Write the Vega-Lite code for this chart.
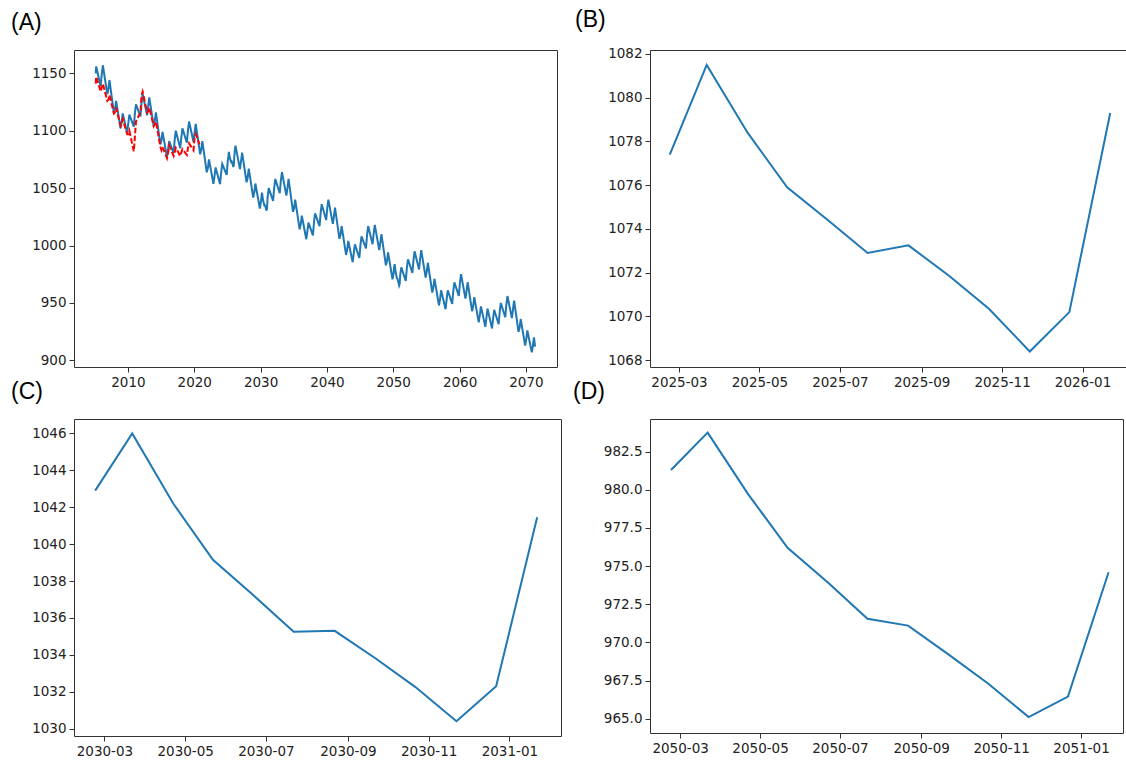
{
  "$schema": "https://vega.github.io/schema/vega-lite/v6.json",
  "autosize": {"type": "pad"},
  "padding": {"left": 10, "top": 8, "right": 0, "bottom": 0},
  "background": "white",
  "config": {
    "view": {"stroke": "#333333", "strokeWidth": 1},
    "axis": {"grid": false, "domain": false, "tickColor": "#333333", "tickSize": 5, "tickWidth": 1, "labelFont": "DejaVu Sans", "labelFontSize": 13.5, "labelColor": "#222222", "labelPadding": 3, "labelOverlap": false, "labelFlush": false, "labelBound": false},
    "title": {"anchor": "start", "frame": "group", "font": "Liberation Sans", "fontSize": 23, "fontWeight": "normal", "color": "black", "baseline": "alphabetic", "offset": 15}
  },
  "datasets": {
    "pred": [
      {"d": "2005-02-22", "v": 1150}, {"d": "2005-03-22", "v": 1156}, {"d": "2005-11-22", "v": 1138.5},
      {"d": "2006-01-22", "v": 1149.5}, {"d": "2006-03-22", "v": 1157}, {"d": "2006-11-22", "v": 1131.8},
      {"d": "2007-01-22", "v": 1136.5}, {"d": "2007-03-22", "v": 1144}, {"d": "2007-11-22", "v": 1115.4},
      {"d": "2008-01-22", "v": 1118.5}, {"d": "2008-03-22", "v": 1126}, {"d": "2008-11-22", "v": 1102.1},
      {"d": "2009-01-22", "v": 1107.5}, {"d": "2009-03-22", "v": 1115}, {"d": "2009-11-22", "v": 1097.8},
      {"d": "2010-01-22", "v": 1106.5}, {"d": "2010-03-22", "v": 1114}, {"d": "2010-11-22", "v": 1103.5},
      {"d": "2011-01-22", "v": 1115.5}, {"d": "2011-03-22", "v": 1123}, {"d": "2011-11-22", "v": 1112.5},
      {"d": "2012-01-22", "v": 1124.5}, {"d": "2012-03-22", "v": 1132}, {"d": "2012-11-22", "v": 1113.5},
      {"d": "2013-01-22", "v": 1121.5}, {"d": "2013-03-22", "v": 1129}, {"d": "2013-11-22", "v": 1103.8},
      {"d": "2014-01-22", "v": 1108.5}, {"d": "2014-03-22", "v": 1116}, {"d": "2014-11-22", "v": 1088.1},
      {"d": "2015-01-22", "v": 1091.5}, {"d": "2015-03-22", "v": 1099}, {"d": "2015-11-22", "v": 1077.1},
      {"d": "2016-01-22", "v": 1083.5}, {"d": "2016-03-22", "v": 1091}, {"d": "2016-11-22", "v": 1080.5},
      {"d": "2017-01-22", "v": 1092.5}, {"d": "2017-03-22", "v": 1100}, {"d": "2017-11-22", "v": 1084.8},
      {"d": "2018-01-22", "v": 1094.5}, {"d": "2018-03-22", "v": 1102}, {"d": "2018-11-22", "v": 1089.5},
      {"d": "2019-01-22", "v": 1100.5}, {"d": "2019-03-22", "v": 1108}, {"d": "2019-11-22", "v": 1090.2},
      {"d": "2020-01-22", "v": 1098.5}, {"d": "2020-03-22", "v": 1106}, {"d": "2020-11-22", "v": 1079.5},
      {"d": "2021-01-22", "v": 1083.5}, {"d": "2021-03-22", "v": 1091}, {"d": "2021-11-22", "v": 1063.8},
      {"d": "2022-01-22", "v": 1067.5}, {"d": "2022-03-22", "v": 1075}, {"d": "2022-11-22", "v": 1053.8},
      {"d": "2023-01-22", "v": 1060.5}, {"d": "2023-03-22", "v": 1068}, {"d": "2023-11-22", "v": 1053.5},
      {"d": "2024-01-22", "v": 1063.5}, {"d": "2024-03-22", "v": 1071}, {"d": "2024-11-22", "v": 1061.5},
      {"d": "2025-01-22", "v": 1074},
      {"d": "2025-02-22", "v": 1077.4}, {"d": "2025-03-22", "v": 1081.5}, {"d": "2025-04-22", "v": 1078.4},
      {"d": "2025-05-22", "v": 1075.9}, {"d": "2025-06-22", "v": 1074.4}, {"d": "2025-07-22", "v": 1072.9},
      {"d": "2025-08-22", "v": 1073.25}, {"d": "2025-09-22", "v": 1071.85}, {"d": "2025-10-22", "v": 1070.35},
      {"d": "2025-11-22", "v": 1068.4}, {"d": "2025-12-22", "v": 1070.2}, {"d": "2026-01-22", "v": 1079.3},
      {"d": "2026-03-22", "v": 1087}, {"d": "2026-11-22", "v": 1066.5},
      {"d": "2027-01-22", "v": 1073.5}, {"d": "2027-03-22", "v": 1081}, {"d": "2027-11-22", "v": 1055.1},
      {"d": "2028-01-22", "v": 1059.5}, {"d": "2028-03-22", "v": 1067}, {"d": "2028-11-22", "v": 1041.8},
      {"d": "2029-01-22", "v": 1046.5}, {"d": "2029-03-22", "v": 1054}, {"d": "2029-11-22", "v": 1032.1},
      {"d": "2030-01-22", "v": 1038.5},
      {"d": "2030-02-22", "v": 1042.9}, {"d": "2030-03-22", "v": 1046}, {"d": "2030-04-22", "v": 1042.2},
      {"d": "2030-05-22", "v": 1039.15}, {"d": "2030-06-22", "v": 1037.2}, {"d": "2030-07-22", "v": 1035.25},
      {"d": "2030-08-22", "v": 1035.3}, {"d": "2030-09-22", "v": 1033.8}, {"d": "2030-10-22", "v": 1032.25},
      {"d": "2030-11-22", "v": 1030.4}, {"d": "2030-12-22", "v": 1032.3}, {"d": "2031-01-22", "v": 1041.45},
      {"d": "2031-03-22", "v": 1050}, {"d": "2031-11-22", "v": 1038.9},
      {"d": "2032-01-22", "v": 1050.5}, {"d": "2032-03-22", "v": 1058}, {"d": "2032-11-22", "v": 1045.5},
      {"d": "2033-01-22", "v": 1056.5}, {"d": "2033-03-22", "v": 1064}, {"d": "2033-11-22", "v": 1043.5},
      {"d": "2034-01-22", "v": 1050.5}, {"d": "2034-03-22", "v": 1058}, {"d": "2034-11-22", "v": 1029.4},
      {"d": "2035-01-22", "v": 1032.5}, {"d": "2035-03-22", "v": 1040}, {"d": "2035-11-22", "v": 1014.1},
      {"d": "2036-01-22", "v": 1018.5}, {"d": "2036-03-22", "v": 1026}, {"d": "2036-11-22", "v": 1005.5},
      {"d": "2037-01-22", "v": 1012.5}, {"d": "2037-03-22", "v": 1020}, {"d": "2037-11-22", "v": 1008.9},
      {"d": "2038-01-22", "v": 1020.5}, {"d": "2038-03-22", "v": 1028}, {"d": "2038-11-22", "v": 1016.9},
      {"d": "2039-01-22", "v": 1028.5}, {"d": "2039-03-22", "v": 1036}, {"d": "2039-11-22", "v": 1022.2},
      {"d": "2040-01-22", "v": 1032.5}, {"d": "2040-03-22", "v": 1040}, {"d": "2040-11-22", "v": 1018.8},
      {"d": "2041-01-22", "v": 1025.5}, {"d": "2041-03-22", "v": 1033}, {"d": "2041-11-22", "v": 1005.8},
      {"d": "2042-01-22", "v": 1009.5}, {"d": "2042-03-22", "v": 1017}, {"d": "2042-11-22", "v": 991.8},
      {"d": "2043-01-22", "v": 996.5}, {"d": "2043-03-22", "v": 1004}, {"d": "2043-11-22", "v": 985.5},
      {"d": "2044-01-22", "v": 993.5}, {"d": "2044-03-22", "v": 1001}, {"d": "2044-11-22", "v": 989.2},
      {"d": "2045-01-22", "v": 1000.5}, {"d": "2045-03-22", "v": 1008}, {"d": "2045-11-22", "v": 997.5},
      {"d": "2046-01-22", "v": 1009.5}, {"d": "2046-03-22", "v": 1017}, {"d": "2046-11-22", "v": 1001.2},
      {"d": "2047-01-22", "v": 1010.5}, {"d": "2047-03-22", "v": 1018}, {"d": "2047-11-22", "v": 996.1},
      {"d": "2048-01-22", "v": 1002.5}, {"d": "2048-03-22", "v": 1010}, {"d": "2048-11-22", "v": 982.8},
      {"d": "2049-01-22", "v": 986.5}, {"d": "2049-03-22", "v": 994}, {"d": "2049-11-22", "v": 970.6},
      {"d": "2050-01-22", "v": 976},
      {"d": "2050-02-22", "v": 981.3}, {"d": "2050-03-22", "v": 983.75}, {"d": "2050-04-22", "v": 979.7},
      {"d": "2050-05-22", "v": 976.2}, {"d": "2050-06-22", "v": 973.9}, {"d": "2050-07-22", "v": 971.55},
      {"d": "2050-08-22", "v": 971.1}, {"d": "2050-09-22", "v": 969.2}, {"d": "2050-10-22", "v": 967.3},
      {"d": "2050-11-22", "v": 965.1}, {"d": "2050-12-22", "v": 966.45}, {"d": "2051-01-22", "v": 974.6},
      {"d": "2051-03-22", "v": 981}, {"d": "2051-11-22", "v": 969.2},
      {"d": "2052-01-22", "v": 980.5}, {"d": "2052-03-22", "v": 988}, {"d": "2052-11-22", "v": 976.2},
      {"d": "2053-01-22", "v": 987.5}, {"d": "2053-03-22", "v": 995}, {"d": "2053-11-22", "v": 979.2},
      {"d": "2054-01-22", "v": 988.5}, {"d": "2054-03-22", "v": 996}, {"d": "2054-11-22", "v": 972.1},
      {"d": "2055-01-22", "v": 977.5}, {"d": "2055-03-22", "v": 985}, {"d": "2055-11-22", "v": 959.1},
      {"d": "2056-01-22", "v": 963.5}, {"d": "2056-03-22", "v": 971}, {"d": "2056-11-22", "v": 947.8},
      {"d": "2057-01-22", "v": 953.5}, {"d": "2057-03-22", "v": 961}, {"d": "2057-11-22", "v": 944.5},
      {"d": "2058-01-22", "v": 953.5}, {"d": "2058-03-22", "v": 961}, {"d": "2058-11-22", "v": 949.2},
      {"d": "2059-01-22", "v": 960.5}, {"d": "2059-03-22", "v": 968}, {"d": "2059-11-22", "v": 956.2},
      {"d": "2060-01-22", "v": 967.5}, {"d": "2060-03-22", "v": 975}, {"d": "2060-11-22", "v": 953.8},
      {"d": "2061-01-22", "v": 960.5}, {"d": "2061-03-22", "v": 968}, {"d": "2061-11-22", "v": 942.8},
      {"d": "2062-01-22", "v": 947.5}, {"d": "2062-03-22", "v": 955}, {"d": "2062-11-22", "v": 933.1},
      {"d": "2063-01-22", "v": 939.5}, {"d": "2063-03-22", "v": 947}, {"d": "2063-11-22", "v": 929.2},
      {"d": "2064-01-22", "v": 937.5}, {"d": "2064-03-22", "v": 945}, {"d": "2064-11-22", "v": 927.8},
      {"d": "2065-01-22", "v": 936.5}, {"d": "2065-03-22", "v": 944}, {"d": "2065-11-22", "v": 931.5},
      {"d": "2066-01-22", "v": 942.5}, {"d": "2066-03-22", "v": 950}, {"d": "2066-11-22", "v": 937.5},
      {"d": "2067-01-22", "v": 948.5}, {"d": "2067-03-22", "v": 956}, {"d": "2067-11-22", "v": 936.8},
      {"d": "2068-01-22", "v": 944.5}, {"d": "2068-03-22", "v": 952}, {"d": "2068-11-22", "v": 924.8},
      {"d": "2069-01-22", "v": 928.5}, {"d": "2069-03-22", "v": 936}, {"d": "2069-11-22", "v": 912.8},
      {"d": "2070-01-22", "v": 918.5}, {"d": "2070-03-22", "v": 926}, {"d": "2070-11-22", "v": 907},
      {"d": "2071-01-22", "v": 912.5}, {"d": "2071-03-22", "v": 920}, {"d": "2071-05-22", "v": 912}
    ],
    "obs": [
      {"d": "2005-02-22", "v": 1141}, {"d": "2005-03-22", "v": 1147}, {"d": "2005-11-22", "v": 1134},
      {"d": "2006-01-22", "v": 1138}, {"d": "2006-03-22", "v": 1141}, {"d": "2006-11-22", "v": 1126},
      {"d": "2007-01-22", "v": 1127}, {"d": "2007-03-22", "v": 1131}, {"d": "2007-11-22", "v": 1115},
      {"d": "2008-01-22", "v": 1116}, {"d": "2008-03-22", "v": 1120}, {"d": "2008-11-22", "v": 1104},
      {"d": "2009-01-22", "v": 1106}, {"d": "2009-03-22", "v": 1110}, {"d": "2009-11-22", "v": 1097},
      {"d": "2010-01-22", "v": 1097}, {"d": "2010-03-22", "v": 1100}, {"d": "2010-11-22", "v": 1082},
      {"d": "2011-01-22", "v": 1095}, {"d": "2011-03-22", "v": 1108}, {"d": "2011-11-22", "v": 1116},
      {"d": "2012-01-22", "v": 1131}, {"d": "2012-03-22", "v": 1134}, {"d": "2012-11-22", "v": 1116},
      {"d": "2013-01-22", "v": 1117}, {"d": "2013-03-22", "v": 1120}, {"d": "2013-11-22", "v": 1104},
      {"d": "2014-01-22", "v": 1106}, {"d": "2014-03-22", "v": 1108}, {"d": "2014-11-22", "v": 1086},
      {"d": "2015-01-22", "v": 1083}, {"d": "2015-03-22", "v": 1086}, {"d": "2015-11-22", "v": 1076},
      {"d": "2016-01-22", "v": 1081}, {"d": "2016-03-22", "v": 1087}, {"d": "2016-11-22", "v": 1078},
      {"d": "2017-01-22", "v": 1081}, {"d": "2017-03-22", "v": 1085}, {"d": "2017-11-22", "v": 1078},
      {"d": "2018-01-22", "v": 1081}, {"d": "2018-03-22", "v": 1084}, {"d": "2018-11-22", "v": 1079},
      {"d": "2019-01-22", "v": 1085}, {"d": "2019-03-22", "v": 1089}, {"d": "2019-11-22", "v": 1083},
      {"d": "2020-01-22", "v": 1094}, {"d": "2020-03-22", "v": 1097}, {"d": "2020-10-22", "v": 1088}
    ]
  },
  "columns": 2,
  "align": "none",
  "bounds": "flush",
  "spacing": {"row": 52, "column": 89},
  "concat": [
    {
      "width": 483, "height": 317,
      "title": {"text": "(A)", "dx": -63},
      "layer": [
        {
          "data": {"name": "pred", "format": {"parse": {"d": "date"}}},
          "mark": {"type": "line", "color": "#1f77b4", "strokeWidth": 2},
          "encoding": {
            "x": {"field": "d", "type": "temporal", "title": null,
              "scale": {"domain": [{"year": 2001, "month": 11, "date": 15}, {"year": 2074, "month": 9, "date": 10}]},
              "axis": {"format": "%Y", "values": [{"year": 2010}, {"year": 2020}, {"year": 2030}, {"year": 2040}, {"year": 2050}, {"year": 2060}, {"year": 2070}]}},
            "y": {"field": "v", "type": "quantitative", "title": null,
              "scale": {"domain": [894.2, 1170.3], "nice": false, "zero": false},
              "axis": {"format": "d", "values": [900, 950, 1000, 1050, 1100, 1150]}}
          }
        },
        {
          "data": {"name": "obs", "format": {"parse": {"d": "date"}}},
          "mark": {"type": "line", "color": "#ff0000", "strokeWidth": 2, "strokeDash": [5.5, 2.4]},
          "encoding": {
            "x": {"field": "d", "type": "temporal"},
            "y": {"field": "v", "type": "quantitative"}
          }
        }
      ]
    },
    {
      "width": 480, "height": 317,
      "title": {"text": "(B)", "dx": -75},
      "data": {"name": "pred", "format": {"parse": {"d": "date"}}},
      "transform": [{"filter": {"field": "d", "range": [{"year": 2025, "month": 2, "date": 1}, {"year": 2026, "month": 2, "date": 1}]}}],
      "mark": {"type": "line", "color": "#1f77b4", "strokeWidth": 2},
      "encoding": {
        "x": {"field": "d", "type": "temporal", "title": null,
          "scale": {"domain": [{"year": 2025, "month": 2, "date": 7}, {"year": 2026, "month": 2, "date": 6}]},
          "axis": {"format": "%Y-%m", "values": [{"year": 2025, "month": 3, "date": 1}, {"year": 2025, "month": 5, "date": 1}, {"year": 2025, "month": 7, "date": 1}, {"year": 2025, "month": 9, "date": 1}, {"year": 2025, "month": 11, "date": 1}, {"year": 2026, "month": 1, "date": 1}]}},
        "y": {"field": "v", "type": "quantitative", "title": null,
          "scale": {"domain": [1067.69, 1082.18], "nice": false, "zero": false},
          "axis": {"format": "d", "values": [1068, 1070, 1072, 1074, 1076, 1078, 1080, 1082]}}
      }
    },
    {
      "width": 487, "height": 317,
      "title": {"text": "(C)", "dx": -63},
      "data": {"name": "pred", "format": {"parse": {"d": "date"}}},
      "transform": [{"filter": {"field": "d", "range": [{"year": 2030, "month": 2, "date": 1}, {"year": 2031, "month": 2, "date": 1}]}}],
      "mark": {"type": "line", "color": "#1f77b4", "strokeWidth": 2},
      "encoding": {
        "x": {"field": "d", "type": "temporal", "title": null,
          "scale": {"domain": [{"year": 2030, "month": 2, "date": 6}, {"year": 2031, "month": 2, "date": 9}]},
          "axis": {"format": "%Y-%m", "values": [{"year": 2030, "month": 3, "date": 1}, {"year": 2030, "month": 5, "date": 1}, {"year": 2030, "month": 7, "date": 1}, {"year": 2030, "month": 9, "date": 1}, {"year": 2030, "month": 11, "date": 1}, {"year": 2031, "month": 1, "date": 1}]}},
        "y": {"field": "v", "type": "quantitative", "title": null,
          "scale": {"domain": [1029.6, 1046.78], "nice": false, "zero": false},
          "axis": {"format": "d", "values": [1030, 1032, 1034, 1036, 1038, 1040, 1042, 1044, 1046]}}
      }
    },
    {
      "width": 473, "height": 314,
      "title": {"text": "(D)", "dx": -77},
      "data": {"name": "pred", "format": {"parse": {"d": "date"}}},
      "transform": [{"filter": {"field": "d", "range": [{"year": 2050, "month": 2, "date": 1}, {"year": 2051, "month": 2, "date": 1}]}}],
      "mark": {"type": "line", "color": "#1f77b4", "strokeWidth": 2},
      "encoding": {
        "x": {"field": "d", "type": "temporal", "title": null,
          "scale": {"domain": [{"year": 2050, "month": 2, "date": 6}, {"year": 2051, "month": 2, "date": 2}]},
          "axis": {"format": "%Y-%m", "values": [{"year": 2050, "month": 3, "date": 1}, {"year": 2050, "month": 5, "date": 1}, {"year": 2050, "month": 7, "date": 1}, {"year": 2050, "month": 9, "date": 1}, {"year": 2050, "month": 11, "date": 1}, {"year": 2051, "month": 1, "date": 1}]}},
        "y": {"field": "v", "type": "quantitative", "title": null,
          "scale": {"domain": [964.06, 984.64], "nice": false, "zero": false},
          "axis": {"format": ".1f", "values": [965, 967.5, 970, 972.5, 975, 977.5, 980, 982.5]}}
      }
    }
  ]
}
